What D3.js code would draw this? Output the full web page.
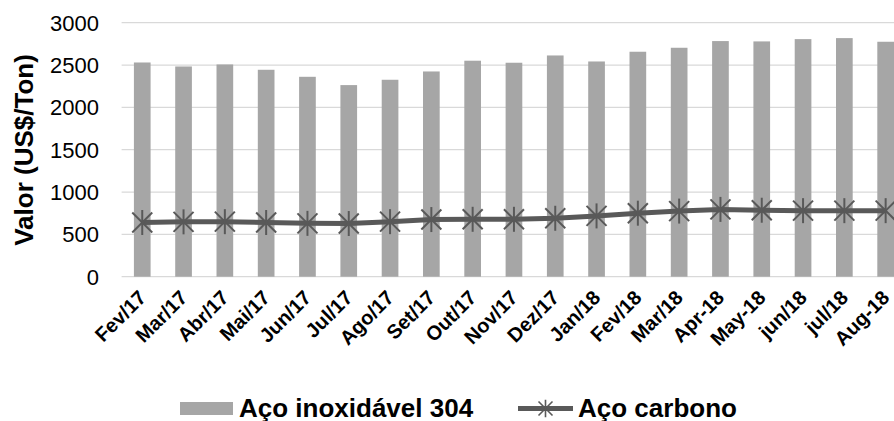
<!DOCTYPE html>
<html><head><meta charset="utf-8">
<script src="https://cdn.jsdelivr.net/npm/d3@7"></script>
<style>body{margin:0;background:#fff;}svg{display:block;font-family:"Liberation Sans",Arial,sans-serif;}</style>
</head><body><svg id="c" width="894" height="421"></svg>
<script>
const categories = ["Fev/17","Mar/17","Abr/17","Mai/17","Jun/17","Jul/17","Ago/17","Set/17","Out/17","Nov/17","Dez/17","Jan/18","Fev/18","Mar/18","Apr-18","May-18","jun/18","jul/18","Aug-18"];
const inox304 = [2530,2483,2507,2444,2361,2263,2326,2424,2551,2527,2613,2542,2657,2704,2783,2779,2806,2818,2775];
const carbono = [640,648,650,640,630,628,650,675,678,678,690,718,750,775,795,785,780,780,780];
const yTicks = [0,500,1000,1500,2000,2500,3000];
const seriesNames = ["Aço inoxidável 304","Aço carbono"];
const yTitle = "Valor (US$/Ton)";

const svg = d3.select("#c");
const barColor = "#a6a6a6", lineColor = "#595959", gridColor = "#d9d9d9";
const x = d3.scaleBand().domain(categories).range([121.6, 121.6 + 41.3*categories.length]).padding(0);
const y = d3.scaleLinear().domain([0,3000]).range([276.7, 22.7]);
const cx = d => x(d) + x.bandwidth()/2;

// gridlines
svg.append("g").selectAll("line").data(yTicks).join("line")
  .attr("x1", 121.6).attr("x2", 910).attr("y1", d=>y(d)).attr("y2", d=>y(d))
  .attr("stroke", gridColor).attr("stroke-width", 1.3);

// y tick labels
svg.append("g").selectAll("text").data(yTicks).join("text")
  .attr("x", 99).attr("y", d=>y(d)).attr("dy","0.36em").attr("text-anchor","end")
  .attr("font-size", 22).attr("fill","#000").text(d=>d);

// y title
svg.append("text").attr("transform","translate(33,150) rotate(-90)")
  .attr("text-anchor","middle").attr("font-size",26).attr("font-weight","bold").text(yTitle);

// bars
const bw = x.bandwidth()*0.404;
svg.append("g").selectAll("rect").data(categories).join("rect")
  .attr("x", (d)=>cx(d)-bw/2).attr("width", bw)
  .attr("y", (d,i)=>y(inox304[i])).attr("height",(d,i)=>y(0)-y(inox304[i]))
  .attr("fill", barColor);

// line
const line = d3.line().x((d,i)=>cx(categories[i])).y(d=>y(d));
svg.append("path").datum(carbono).attr("d", line).attr("fill","none")
  .attr("stroke", lineColor).attr("stroke-width",5).attr("stroke-linejoin","round");

function star(g, r, sw){
  g.append("line").attr("x1",-r).attr("y1",-r).attr("x2",r).attr("y2",r);
  g.append("line").attr("x1",-r).attr("y1",r).attr("x2",r).attr("y2",-r);
  g.append("line").attr("x1",0).attr("y1",-r*1.25).attr("x2",0).attr("y2",r*1.25);
  g.attr("stroke",lineColor).attr("stroke-width",sw);
}
svg.append("g").selectAll("g").data(carbono).join("g")
  .attr("transform",(d,i)=>`translate(${cx(categories[i])},${y(d)})`)
  .each(function(){ star(d3.select(this), 10, 2); });

// x labels
svg.append("g").selectAll("text").data(categories).join("text")
  .attr("transform", d=>`translate(${cx(d)+5},${299}) rotate(-45)`)
  .attr("text-anchor","end").attr("font-size",20).attr("font-weight","bold").text(d=>d);

// legend
const lg = svg.append("g");
lg.append("rect").attr("x",180).attr("y",402).attr("width",53).attr("height",13).attr("fill",barColor);
lg.append("text").attr("x",239).attr("y",416.5).attr("font-size",26).attr("font-weight","bold").text(seriesNames[0]);
lg.append("line").attr("x1",518).attr("x2",573).attr("y1",408.5).attr("y2",408.5).attr("stroke",lineColor).attr("stroke-width",5);
const ls = lg.append("g").attr("transform","translate(545.5,408.5)");
star(ls, 7, 1.6);
lg.append("text").attr("x",578).attr("y",416.5).attr("font-size",26).attr("font-weight","bold").text(seriesNames[1]);
</script></body></html>
